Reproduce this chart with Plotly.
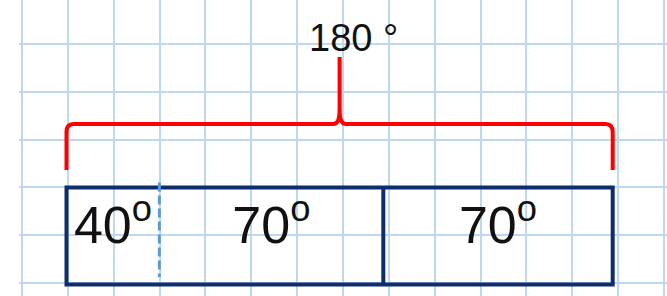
import plotly.graph_objects as go

# ---- data ----
angles = [40, 70, 70]                       # angle of each part (degrees)
angle_labels = [f"{a}<sup>o</sup>" for a in angles]
total = sum(angles)                          # 180
total_label = f"{total} °"
# part boundaries as drawn along the bar (degree axis)
segment_edges = [0, 30.6, 104.4, 180]

# ---- layout constants (pixels of the 667x296 canvas) ----
W, H = 667, 296
plot_left = 19
bar_left_px, bar_right_px = 66.5, 612.7
deg_per_px = total / (bar_right_px - bar_left_px)
x2_range = [0 - (bar_left_px - plot_left) * deg_per_px,
            total + (W - bar_right_px) * deg_per_px]

bar_top, bar_bottom = 187.5, 284.5
brace_y, brace_end, brace_tip = 124, 170, 57

NAVY = "#0f2d6b"
RED = "#ff0000"
GRID = "#bfd8f2"
DASH = "#5b9bd5"

fig = go.Figure()

# invisible trace that activates the grid axis
fig.add_trace(go.Scatter(x=[plot_left, W], y=[0, H], xaxis="x", yaxis="y",
                         mode="markers", marker=dict(opacity=0),
                         hoverinfo="skip", showlegend=False))

# labels of the parts, centred in each segment
mids = [(segment_edges[i] + segment_edges[i + 1]) / 2 for i in range(len(angles))]
fig.add_trace(go.Scatter(
    x=mids, y=[230] * len(angles), xaxis="x2", yaxis="y",
    mode="text", text=angle_labels, textposition="middle center",
    textfont=dict(family="Liberation Sans, Arial", size=52, color="#111111"),
    hoverinfo="skip", showlegend=False,
))

shapes = []
# outer bar
shapes.append(dict(type="rect", xref="x2", yref="y",
                   x0=segment_edges[0], x1=segment_edges[-1], y0=bar_top, y1=bar_bottom,
                   line=dict(color=NAVY, width=4), fillcolor="rgba(0,0,0,0)"))
# solid divider
shapes.append(dict(type="line", xref="x2", yref="y",
                   x0=segment_edges[2], x1=segment_edges[2], y0=bar_top, y1=bar_bottom,
                   line=dict(color=NAVY, width=4)))
# dashed divider
shapes.append(dict(type="line", xref="x2", yref="y",
                   x0=segment_edges[1], x1=segment_edges[1], y0=182.5, y1=277,
                   line=dict(color=DASH, width=3, dash="9px,4px")))

# brace over the whole bar
x0, x1, xc = segment_edges[0], segment_edges[-1], total / 2
rx, ry = 7 * deg_per_px, 8
cx, cy = 6 * deg_per_px, 15
path = (f"M {x0},{brace_end} L {x0},{brace_y + ry} Q {x0},{brace_y} {x0 + rx},{brace_y} "
        f"L {xc - cx},{brace_y} Q {xc},{brace_y} {xc},{brace_y - cy} L {xc},{brace_tip} "
        f"M {xc},{brace_y - cy} Q {xc},{brace_y} {xc + cx},{brace_y} "
        f"L {x1 - rx},{brace_y} Q {x1},{brace_y} {x1},{brace_y + ry} L {x1},{brace_end}")
shapes.append(dict(type="path", xref="x2", yref="y", path=path,
                   line=dict(color=RED, width=4)))

fig.update_layout(
    width=W, height=H,
    margin=dict(l=plot_left, r=0, t=0, b=0),
    paper_bgcolor="white", plot_bgcolor="white",
    showlegend=False,
    shapes=shapes,
    xaxis=dict(range=[plot_left, W], showgrid=True, gridcolor=GRID, gridwidth=2,
               tick0=22, dtick=45.86, showticklabels=False, ticks="",
               zeroline=False, showline=False, fixedrange=True),
    xaxis2=dict(range=x2_range, overlaying="x", visible=False, showgrid=False,
                zeroline=False, fixedrange=True),
    yaxis=dict(range=[H, 0], showgrid=True, gridcolor=GRID, gridwidth=2,
               tick0=44, dtick=47.8, showticklabels=False, ticks="",
               zeroline=False, showline=False, fixedrange=True),
    annotations=[dict(x=xc, y=37.5, xref="x2", yref="y", text=total_label,
                      showarrow=False, xshift=14,
                      font=dict(family="Liberation Sans, Arial", size=38, color="#111111"))],
)

fig.write_html("out.html", config={"displayModeBar": False},
               post_script="document.body.style.margin='0';document.body.style.overflow='hidden';")
